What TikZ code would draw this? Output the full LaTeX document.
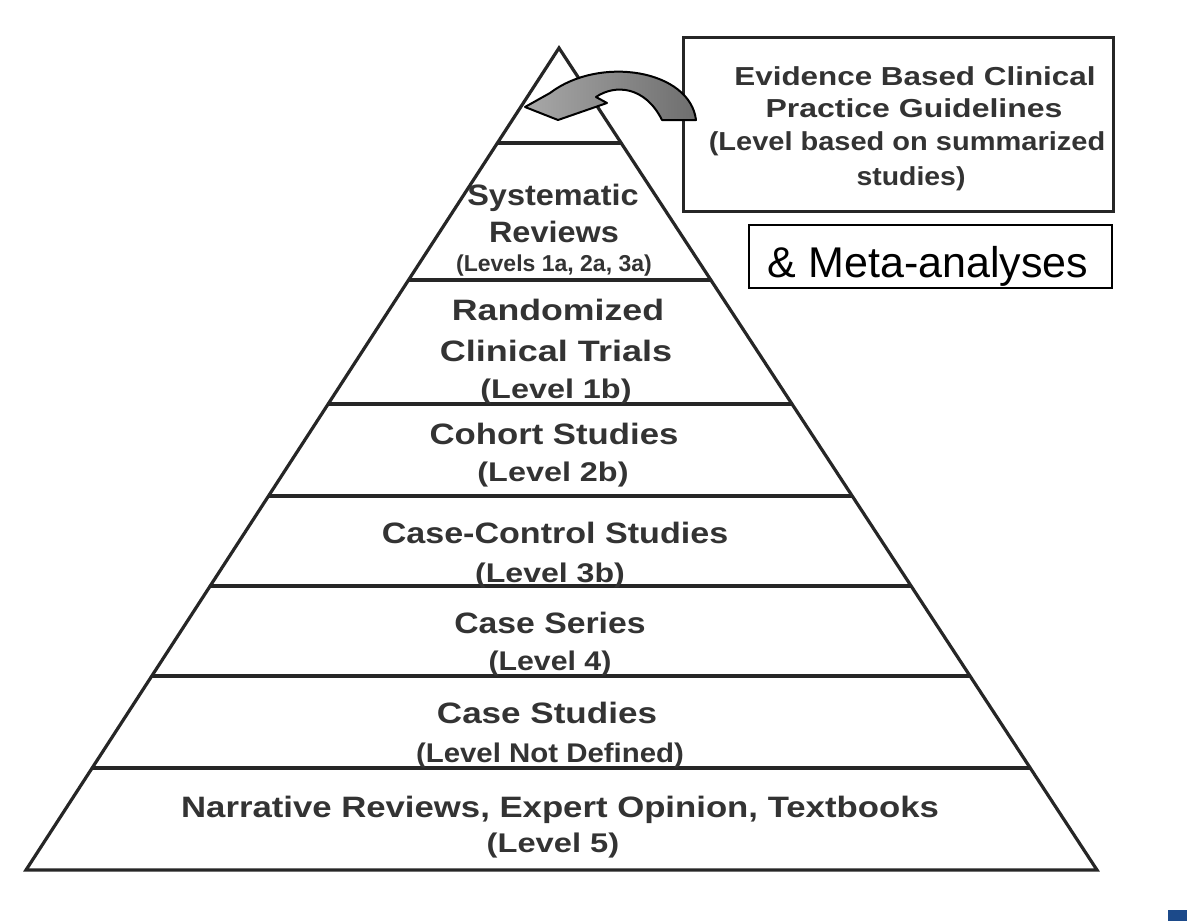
\documentclass[tikz,border=0pt]{standalone}
\usepackage{graphicx}
\usepackage{fontspec}
\setmainfont{Liberation Sans}
\newfontfamily\pyrfont[FakeStretch=1.1]{Liberation Sans}
\newfontfamily\boxfont[FakeStretch=1.15]{Liberation Sans}
\definecolor{lineclr}{HTML}{262626}
\definecolor{txtclr}{HTML}{333333}
\definecolor{arrowL}{HTML}{A8A8A8}
\definecolor{arrowR}{HTML}{6E6E6E}
\definecolor{cornerblue}{HTML}{1C4A8A}
\newcommand\hx[2]{\scalebox{#1}[1]{#2}}
\begin{document}
\begin{tikzpicture}[x=1pt,y=-1pt,
  pyrline/.style={draw=lineclr, line width=3.2pt, line join=miter},
  divline/.style={draw=lineclr, line width=3.6pt},
  maintxt/.style={font=\pyrfont\bfseries\fontsize{29.5}{29.5}\selectfont, text=txtclr, anchor=base, inner sep=0pt},
  lvltxt/.style={font=\pyrfont\bfseries\fontsize{27}{27}\selectfont, text=txtclr, anchor=base, inner sep=0pt},
  smalltxt/.style={font=\bfseries\fontsize{23}{23}\selectfont, text=txtclr, anchor=base, inner sep=0pt},
  boxtxt/.style={font=\boxfont\bfseries\fontsize{26}{26}\selectfont, text=txtclr, anchor=base, inner sep=0pt},
  metatxt/.style={font=\fontsize{43}{43}\selectfont, text=black, anchor=base, inner sep=0pt}]
\useasboundingbox (0,0) rectangle (1187,921);
\fill[white] (0,0) rectangle (1187,921);

% pyramid outline
\coordinate (apex) at (559,48);
\coordinate (bl) at (26,870);
\coordinate (br) at (1097,870);
\draw[pyrline] (apex) -- (bl) -- (br) -- cycle;

% dividers
\draw[divline] (498,143) -- (621,143);
\draw[divline] (409,280) -- (711,280);
\draw[divline] (329,404) -- (792,404);
\draw[divline] (269,496) -- (852,496);
\draw[divline] (210,586) -- (911,586);
\draw[divline] (152,676) -- (970,676);
\draw[divline] (92,768) -- (1030,768);

% pyramid texts
\node[maintxt] (sys1) at (553,205) {Systematic};
\node[maintxt] (sys2) at (554,242) {Reviews};
\node[smalltxt] (sys3) at (554,271) {(Levels 1a, 2a, 3a)};
\node[maintxt] (rct1) at (558,320) {\hx{1.10}{Randomized}};
\node[maintxt] (rct2) at (556,361) {\hx{1.11}{Clinical Trials}};
\node[lvltxt] (rct3) at (556,398) {\hx{1.09}{(Level 1b)}};
\node[maintxt] (coh1) at (554,444) {\hx{1.07}{Cohort Studies}};
\node[lvltxt] (coh2) at (553,481) {\hx{1.09}{(Level 2b)}};
\node[maintxt] (cc1) at (555,543) {\hx{1.05}{Case-Control Studies}};
\node[lvltxt] (cc2) at (550,582) {\hx{1.08}{(Level 3b)}};
\node[maintxt] (cs1) at (550,633) {\hx{1.04}{Case Series}};
\node[lvltxt] (cs2) at (550,670) {\hx{1.02}{(Level 4)}};
\node[maintxt] (cst1) at (547,723) {\hx{1.08}{Case Studies}};
\node[lvltxt] (cst2) at (550,762) {\hx{0.99}{(Level Not Defined)}};
\node[maintxt] (nar1) at (560,817) {\hx{1.07}{Narrative Reviews, Expert Opinion, Textbooks}};
\node[lvltxt] (nar2) at (553,852) {\hx{1.10}{(Level 5)}};

% guideline box
\draw[draw=lineclr, line width=3pt] (683,37) rectangle (1113,211);
\node[boxtxt] (g1) at (915,85) {\hx{1.05}{Evidence Based Clinical}};
\node[boxtxt] (g2) at (914,117) {\hx{1.07}{Practice Guidelines}};
\node[boxtxt] (g3) at (907,150) {\hx{0.97}{(Level based on summarized}};
\node[boxtxt] (g4) at (911,185) {\hx{0.95}{studies)}};

% meta box
\draw[draw=black, line width=2.5pt] (749,225) rectangle (1112,288);
\node[metatxt] (meta) at (928,277) {\& Meta-analyses};

% curved arrow
\draw[draw=black, line width=2pt, line join=round, left color=arrowL, right color=arrowR]
  (550,93) -- (525,107) -- (558,120) -- (607,103) -- (596,97)
  .. controls (615,84) and (645,86) .. (662,120) -- (696,120)
  .. controls (690,70) and (600,55) .. (550,93) -- cycle;

% corner mark
\fill[cornerblue] (1168,910) rectangle (1187,921);
\end{tikzpicture}
\end{document}
